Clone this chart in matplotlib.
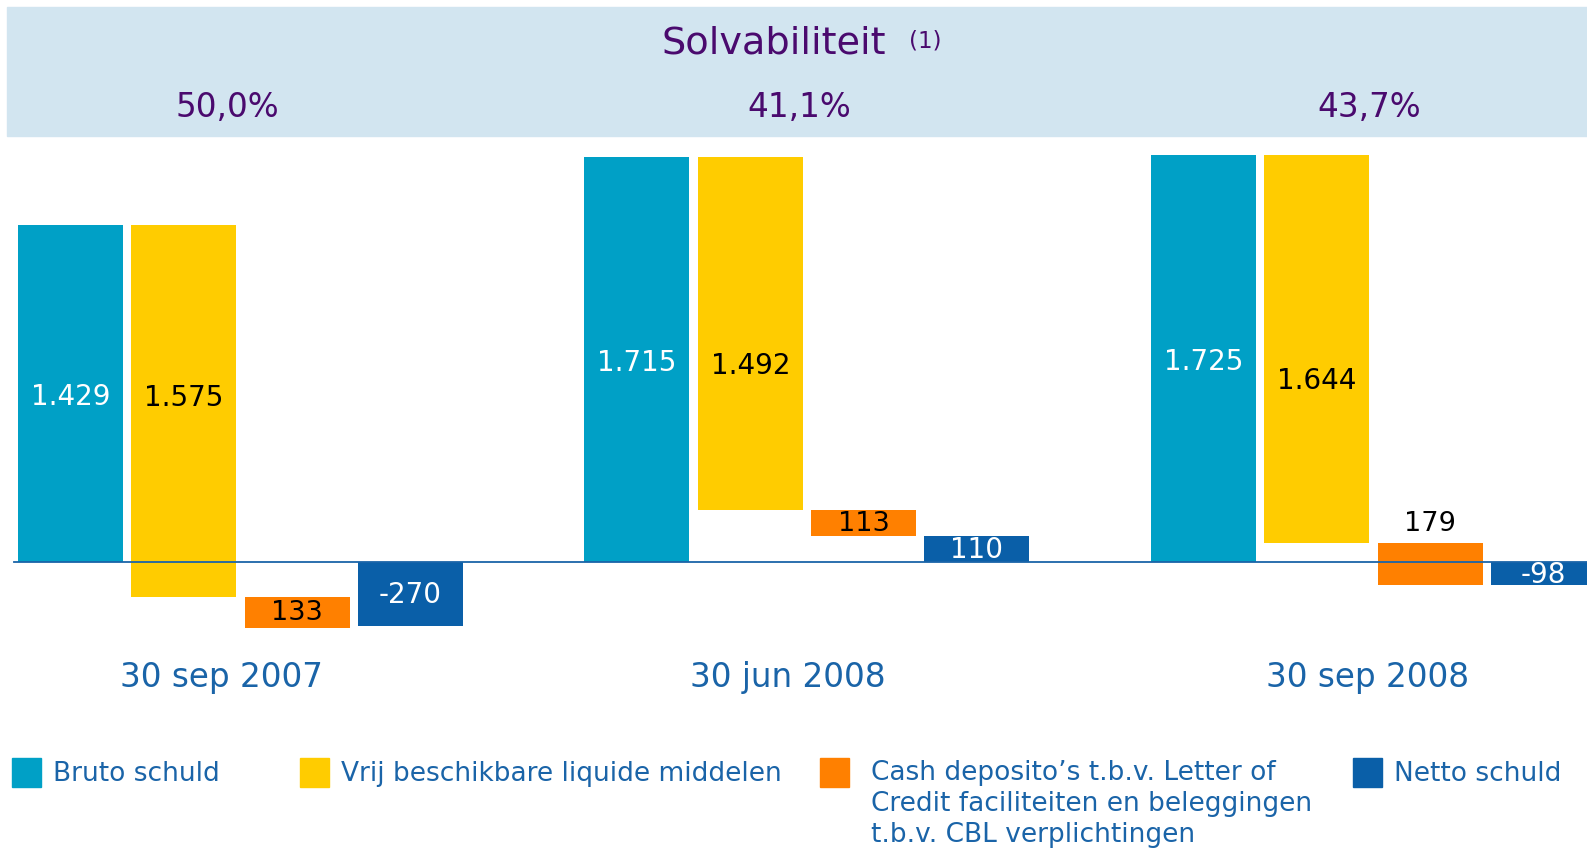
import matplotlib.pyplot as plt
from matplotlib.patches import Rectangle

# data
periods = ['30 sep 2007', '30 jun 2008', '30 sep 2008']
solvabiliteit = ['50,0%', '41,1%', '43,7%']
bruto = [1429, 1715, 1725]
vrij = [1575, 1492, 1644]
cash = [133, 113, 179]
netto = [-270, 110, -98]
series_names = ['Bruto schuld', 'Vrij beschikbare liquide middelen',
                "Cash deposito\u2019s t.b.v. Letter of\nCredit faciliteiten en beleggingen\nt.b.v. CBL verplichtingen",
                'Netto schuld']

C_BRUTO = '#00a0c6'
C_VRIJ = '#ffcc00'
C_CASH = '#ff8000'
C_NETTO = '#0a5fa8'
C_TEXT = '#1a64a8'
C_PURPLE = '#4a0a6e'
C_BAND = '#d2e5f0'

W, H = 1587, 854
fig = plt.figure(figsize=(W / 100, H / 100), dpi=100)
ax = fig.add_axes([0, 0, 1, 1])
ax.axis('off')
ax.set_xlim(-0.622, -0.622 + W / 113.3)
ax.set_ylim(-1230.7, 2384.8)
ax.set_zorder(1)
ax.patch.set_visible(False)


def fx(px):
    return px / W


def fy(py):
    return 1 - py / H


# top band (behind the axes)
fig.patches.append(Rectangle((fx(7), fy(136.5)), 1 - fx(7), (136.5 - 8) / H,
                             transform=fig.transFigure, color=C_BAND, zorder=0))

fig.text(fx(773.5), fy(53), 'Solvabiliteit', ha='center', va='baseline',
         fontsize=27.5, color=C_PURPLE, zorder=2)
fig.text(fx(909), fy(47), '(1)', ha='left', va='baseline', fontsize=16.5,
         color=C_PURPLE, zorder=2)

bw = 0.927
vrij_label_y = [700, 835, 770]
cash_label_above = [False, False, True]
pct_x = [1.38, 1.43, 1.46]
period_x = [1.33, 1.33, 1.45]

for g in range(len(periods)):
    x0 = g * 5
    b, v, c, n = bruto[g], vrij[g], cash[g], netto[g]
    ax.bar(x0, b, bw, bottom=0, color=C_BRUTO, zorder=2)
    ax.bar(x0 + 1, -v, bw, bottom=b, color=C_VRIJ, zorder=2)
    ax.bar(x0 + 2, -c, bw, bottom=b - v, color=C_CASH, zorder=2)
    ax.bar(x0 + 3, n, bw, bottom=0, color=C_NETTO, zorder=2)

    lbl = lambda x: f'{x/1000:.3f}'
    ax.text(x0, b / 2 - 10, lbl(b), ha='center', va='center', fontsize=20,
            color='white', zorder=4)
    ax.text(x0 + 1, vrij_label_y[g], lbl(v), ha='center', va='center', fontsize=20,
            color='black', zorder=4)
    if cash_label_above[g]:
        ax.text(x0 + 2, b - v + 85, str(c), ha='center', va='center', fontsize=19.5,
                color='black', zorder=4)
    else:
        ax.text(x0 + 2, b - v - c / 2, str(c), ha='center', va='center', fontsize=19.5,
                color='black', zorder=4)
    ax.text(x0 + 3, n / 2, str(n), ha='center', va='center', fontsize=20,
            color='white', zorder=4)

    ax.text(x0 + pct_x[g], (563.3 - 117) / 0.2362, solvabiliteit[g], ha='center',
            va='baseline', fontsize=23.5, color=C_PURPLE, zorder=4)
    ax.text(x0 + period_x[g], (563.3 - 687) / 0.2362, periods[g], ha='center',
            va='baseline', fontsize=23.5, color=C_TEXT)

ax.axhline(0, xmin=14 / W, xmax=1, color=C_TEXT, lw=1.3, zorder=3)

# legend
leg_colors = [C_BRUTO, C_VRIJ, C_CASH, C_NETTO]
sq_x = [12, 300, 820, 1353]
txt_x = [52.6, 341, 871, 1394]
for col, sx, tx, name in zip(leg_colors, sq_x, txt_x, series_names):
    fig.patches.append(Rectangle((fx(sx), fy(788)), 29 / W, 29 / H,
                                 transform=fig.transFigure, color=col))
    if '\n' in name:
        fig.text(fx(tx), fy(760), name, ha='left', va='top',
                 fontsize=19, color=C_TEXT, linespacing=1.26)
    else:
        fig.text(fx(tx), fy(774), name, ha='left', va='center',
                 fontsize=19, color=C_TEXT)

fig.savefig('out.png', dpi=100)
